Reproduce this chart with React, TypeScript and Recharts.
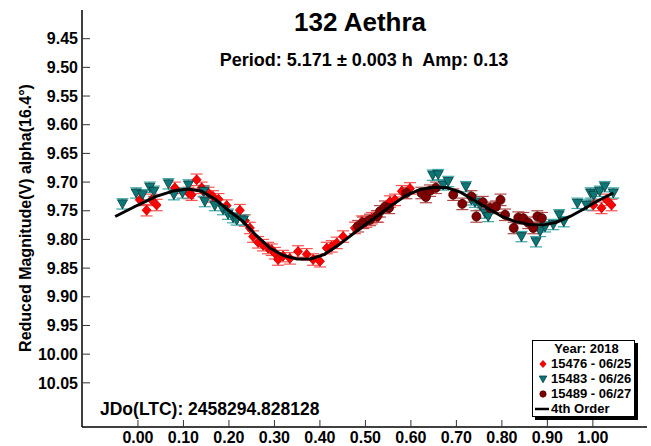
import { ComposedChart, Scatter, XAxis, YAxis, ErrorBar, Legend } from 'recharts'

// phase, reduced magnitude
const obs15476: [number, number][] = [
  [0.004, 9.731], [0.019, 9.749], [0.030, 9.731], [0.041, 9.740], [0.081, 9.710],
  [0.111, 9.719], [0.118, 9.722], [0.129, 9.696], [0.140, 9.710], [0.144, 9.716],
  [0.155, 9.719], [0.165, 9.725], [0.177, 9.730], [0.195, 9.741], [0.224, 9.749],
  [0.235, 9.767], [0.246, 9.780], [0.253, 9.795], [0.264, 9.805], [0.275, 9.810],
  [0.286, 9.815], [0.294, 9.818], [0.301, 9.824], [0.308, 9.835], [0.319, 9.829],
  [0.334, 9.833], [0.352, 9.821], [0.371, 9.826], [0.385, 9.835], [0.400, 9.838],
  [0.415, 9.815], [0.426, 9.812], [0.437, 9.806], [0.451, 9.795], [0.477, 9.780],
  [0.492, 9.769], [0.502, 9.769], [0.514, 9.763], [0.528, 9.760], [0.554, 9.734],
  [0.565, 9.731], [0.580, 9.716], [0.598, 9.711], [1.001, 9.740], [1.019, 9.745],
  [1.030, 9.731], [1.041, 9.740],
]

const obs15483: [number, number][] = [
  [-0.034, 9.738], [-0.004, 9.719], [0.010, 9.722], [0.026, 9.709], [0.035, 9.716],
  [0.067, 9.703], [0.079, 9.722], [0.098, 9.719], [0.111, 9.705], [0.145, 9.716],
  [0.147, 9.734], [0.169, 9.741], [0.187, 9.748], [0.198, 9.756], [0.209, 9.762],
  [0.217, 9.766], [0.232, 9.766], [0.648, 9.688], [0.660, 9.687], [0.671, 9.705],
  [0.682, 9.699], [0.721, 9.708], [0.733, 9.731], [0.741, 9.735], [0.752, 9.740],
  [0.763, 9.754], [0.770, 9.760], [0.843, 9.795], [0.875, 9.804], [0.884, 9.786],
  [0.895, 9.778], [0.913, 9.774], [0.926, 9.757], [0.936, 9.769], [0.966, 9.737],
  [0.986, 9.740], [0.995, 9.719], [1.002, 9.723], [1.015, 9.716], [1.026, 9.708],
  [1.045, 9.719],
]

const obs15489: [number, number][] = [
  [0.484, 9.777], [0.495, 9.771], [0.510, 9.766], [0.525, 9.760], [0.532, 9.751],
  [0.543, 9.743], [0.552, 9.745], [0.590, 9.719], [0.623, 9.719], [0.633, 9.726],
  [0.642, 9.715], [0.655, 9.710], [0.693, 9.722], [0.713, 9.738], [0.733, 9.725],
  [0.744, 9.760], [0.758, 9.735], [0.774, 9.745], [0.787, 9.743], [0.797, 9.731],
  [0.807, 9.757], [0.826, 9.780], [0.836, 9.762], [0.847, 9.763], [0.858, 9.771],
  [0.869, 9.780], [0.878, 9.760], [0.888, 9.763],
]

const err15476 = 0.010
const err15483 = 0.009
const err15489 = 0.010

// 4th order fit
const fitCurve: [number, number][] = [
  [-0.05, 9.760], [0.00, 9.740], [0.04, 9.725], [0.08, 9.715], [0.11, 9.712],
  [0.14, 9.716], [0.17, 9.730], [0.20, 9.750], [0.23, 9.768], [0.26, 9.793],
  [0.29, 9.815], [0.32, 9.828], [0.35, 9.834], [0.38, 9.834], [0.41, 9.826],
  [0.44, 9.810], [0.47, 9.792], [0.50, 9.774], [0.53, 9.757], [0.56, 9.739],
  [0.59, 9.723], [0.62, 9.713], [0.65, 9.709], [0.68, 9.710], [0.71, 9.718],
  [0.74, 9.732], [0.77, 9.746], [0.80, 9.760], [0.83, 9.769], [0.86, 9.774],
  [0.89, 9.775], [0.92, 9.770], [0.95, 9.760], [0.98, 9.747], [1.01, 9.733],
  [1.045, 9.719],
]

const xTicks = [0, 0.1, 0.2, 0.3, 0.4, 0.5, 0.6, 0.7, 0.8, 0.9, 1.0]
const yTicks = [9.45, 9.5, 9.55, 9.6, 9.65, 9.7, 9.75, 9.8, 9.85, 9.9, 9.95, 10.0, 10.05]

const xDomain: [number, number] = [-0.123, 1.119]
const yDomain: [number, number] = [9.40, 10.127]

const FONT = '"Liberation Sans", Arial, sans-serif'

const toPoints = (arr: [number, number][], err: number) => arr.map(([x, y]) => ({ x, y, err }))

const Diamond = ({ cx, cy, s = 1 }: any) => (
  <polygon points={`${cx},${cy - 5 * s} ${cx + 4.5 * s},${cy} ${cx},${cy + 5 * s} ${cx - 4.5 * s},${cy}`}
    fill="#ff0000" stroke="#c00000" strokeWidth={0.8} />
)
const TriDown = ({ cx, cy, s = 1 }: any) => (
  <polygon points={`${cx - 5 * s},${cy - 4 * s} ${cx + 5 * s},${cy - 4 * s} ${cx},${cy + 5 * s}`}
    fill="#0d7676" stroke="#023b3b" strokeWidth={0.8} />
)
const Dot = ({ cx, cy, s = 1 }: any) => (
  <circle cx={cx} cy={cy} r={4.5 * s} fill="#800000" stroke="#4a0000" strokeWidth={0.8} />
)
const NoShape = () => <g />

const legendRows = [
  { label: '15476 - 06/25', icon: 'diamond' },
  { label: '15483 - 06/26', icon: 'tri' },
  { label: '15489 - 06/27', icon: 'dot' },
  { label: '4th Order', icon: 'line' },
]

const LegendIcon = ({ icon }: { icon: string }) => (
  <svg width={16} height={12} style={{ display: 'block' }}>
    {icon === 'diamond' && <Diamond cx={9} cy={6} s={0.7} />}
    {icon === 'tri' && <TriDown cx={9} cy={6} s={0.75} />}
    {icon === 'dot' && <Dot cx={9} cy={6} s={0.7} />}
    {icon === 'line' && <line x1={1} y1={6} x2={15} y2={6} stroke="#000" strokeWidth={2.5} />}
  </svg>
)

const LegendBox = () => (
  <div style={{
    width: 101, height: 75, border: '1px solid #000', boxShadow: '3px 3px 0 #000',
    background: '#fff', fontFamily: FONT, fontWeight: 'bold', fontSize: 13, lineHeight: '15px',
    boxSizing: 'content-box',
  }}>
    <div style={{ textAlign: 'center', paddingLeft: 6 }}>Year: 2018</div>
    {legendRows.map((r) => (
      <div key={r.label} style={{ display: 'flex', alignItems: 'center', paddingLeft: 1 }}>
        <LegendIcon icon={r.icon} />
        <span style={{ marginLeft: 1 }}>{r.label}</span>
      </div>
    ))}
  </div>
)

const App = () => {
  const tickStyle = { fontSize: 16, fontWeight: 'bold', fill: '#000', fontFamily: FONT }
  return (
    <div style={{ position: 'absolute', left: 0, top: 0, width: 651, height: 446, background: '#fff' }}>
      <ComposedChart width={651} height={446} margin={{ top: 10, right: 4, bottom: 0, left: 0 }}>
        <XAxis type="number" dataKey="x" domain={xDomain} allowDataOverflow ticks={xTicks} interval={0}
          tickFormatter={(v: number) => v.toFixed(2)} height={19} tickSize={-7} tickMargin={12}
          tick={tickStyle} axisLine={{ stroke: '#000', strokeWidth: 1.5 }} tickLine={{ stroke: '#333' }} />
        <XAxis xAxisId="top" orientation="top" type="number" dataKey="x" domain={xDomain} allowDataOverflow
          ticks={xTicks} interval={0} height={0} tickSize={-7} tick={false}
          axisLine={{ stroke: '#000', strokeWidth: 1.5 }} tickLine={{ stroke: '#333' }} />
        <YAxis type="number" dataKey="y" domain={yDomain} reversed allowDataOverflow ticks={yTicks} interval={0}
          tickFormatter={(v: number) => v.toFixed(2)} width={82} tickSize={-8} tickMargin={12}
          tick={tickStyle} axisLine={{ stroke: '#000', strokeWidth: 1.5 }} tickLine={{ stroke: '#333' }} />
        <YAxis yAxisId="right" orientation="right" type="number" dataKey="y" domain={yDomain} reversed allowDataOverflow
          ticks={yTicks} interval={0} width={0} tickSize={-8} tick={false}
          axisLine={{ stroke: '#000', strokeWidth: 1.5 }} tickLine={{ stroke: '#333' }} />
        <Scatter name="15476 - 06/25" data={toPoints(obs15476, err15476)} shape={Diamond} isAnimationActive={false}>
          <ErrorBar dataKey="err" direction="y" width={6} stroke="#ff5050" strokeWidth={1.2} />
        </Scatter>
        <Scatter name="15483 - 06/26" data={toPoints(obs15483, err15483)} shape={TriDown} isAnimationActive={false}>
          <ErrorBar dataKey="err" direction="y" width={6} stroke="#3aa8a8" strokeWidth={1.2} />
        </Scatter>
        <Scatter name="15489 - 06/27" data={toPoints(obs15489, err15489)} shape={Dot} isAnimationActive={false}>
          <ErrorBar dataKey="err" direction="y" width={6} stroke="#b04848" strokeWidth={1.2} />
        </Scatter>
        <Scatter name="4th Order" data={fitCurve.map(([x, y]) => ({ x, y }))} shape={NoShape}
          line={{ stroke: '#000', strokeWidth: 3 }} lineType="joint" isAnimationActive={false} />
        <Legend layout="vertical" verticalAlign="middle" align="center"
          wrapperStyle={{ left: 532, top: 340, width: 104 }} content={() => <LegendBox />} />
      </ComposedChart>
      <svg width={651} height={446} style={{ position: 'absolute', left: 0, top: 0, pointerEvents: 'none' }}>
        <g fontFamily={FONT} fontWeight="bold" fill="#000">
          <text x={360} y={22} textAnchor="middle" dominantBaseline="central" fontSize={26}>132 Aethra</text>
          <text x={364} y={60} textAnchor="middle" dominantBaseline="central" fontSize={18}
            style={{ whiteSpace: 'pre' }}>{'Period: 5.171 ± 0.003 h  Amp: 0.13'}</text>
          <text x={100} y={409} dominantBaseline="central" fontSize={17.5}>JDo(LTC): 2458294.828128</text>
          <text x={25} y={218} textAnchor="middle" dominantBaseline="central" fontSize={16}
            transform="rotate(-90 25 218)">Reduced Magnitude(V) alpha(16.4°)</text>
        </g>
      </svg>
    </div>
  )
}

export default App
